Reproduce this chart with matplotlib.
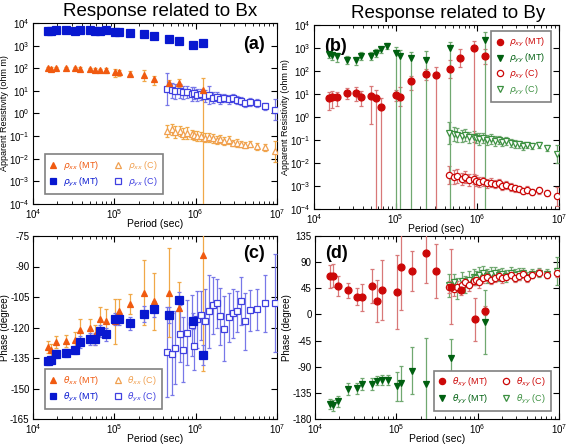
import numpy as np
import matplotlib
matplotlib.use("Agg")
from matplotlib import pyplot as plt
from matplotlib.lines import Line2D
from matplotlib.ticker import NullLocator

plt.rcParams["font.family"] = ["Liberation Sans", "DejaVu Sans"]
plt.rcParams["mathtext.fontset"] = "dejavusans"
plt.rcParams["axes.unicode_minus"] = False

nan = np.nan

# periods (sec)
period_mt = [15300, 16800, 19000, 25700, 32600, 37600, 50000, 57600, 66000, 79000,
             102000, 114000, 155000, 232000, 309000, 465000, 617000, 920000, 1230000]
period_c = [4.45e5, 5.13e5, 5.58e5, 6.43e5, 7.0e5, 7.83e5, 9.04e5, 9.55e5, 1.04e6, 1.16e6,
            1.31e6, 1.46e6, 1.64e6, 1.83e6, 2.0e6, 2.23e6, 2.58e6, 2.88e6, 3.23e6, 3.61e6,
            4.06e6, 4.67e6, 5.69e6, 7.14e6, 9.48e6]

# (a) apparent resistivity, Bx
rho_xx_mt = [98, 97, 100, 105, 102, 96, 90, 88, 80, 80, 68, 65, 57, 50, 32, 22, 23, nan, 11]
rho_xx_mt_lo = [86, 86, 88, 92, 88, 84, 78, 75, 65, 62, 40, 45, 45, 28, 18, 15, 15, nan, 1e-6]
rho_xx_mt_hi = [110, 110, 112, 118, 115, 108, 102, 100, 95, 98, 90, 85, 72, 85, 45, 30, 32, nan, 36]
rho_yx_mt = [4500, 4400, 4800, 4700, 4600, 4800, 5000, 4500, 4600, 4700,
             4100, 4100, 3500, 3300, 2700, 2000, 1600, 1100, 1250]
rho_yx_c = [12, 10.5, 9.5, 10, 8.5, 9, 7.5, 8, 6.5, 7, 6, 6.3, 5, 5.5, 4.5, 5, 4.2, 4.7,
            3.8, 3.5, 2.8, 3.2, 2.8, 2.1, 1.5]
rho_yx_c_f = [5, 2.2, 2.2, 2, 2, 1.8, 2, 1.8, 1.8, 1.7, 1.8, 2.5, 1.8, 1.6, 1.7, 1.5, 1.6,
              1.5, 1.5, 1.5, 1.4, 1.5, 1.5, 1.4, 3]
rho_xx_c = [0.17, 0.2, 0.15, 0.17, 0.13, 0.14, 0.12, 0.11, 0.1, 0.1, 0.085, 0.09, 0.08,
            0.07, 0.075, 0.06, 0.065, 0.05, 0.05, 0.045, 0.04, 0.045, 0.035, 0.032, 0.021]
rho_xx_c_f = [1.8, 1.8, 1.8, 1.7, 1.7, 1.8, 1.6, 1.6, 1.7, 1.6, 1.6, 1.6, 1.6, 1.5, 1.5,
              1.5, 1.5, 1.4, 1.5, 1.4, 1.4, 1.4, 1.4, 1.4, 3]

# (b) apparent resistivity, By
rho_xy_mt = [6.8, 7.5, 7.5, 11, 11, 7.5, 8.5, 6.5, 2.8, nan, 9.5, 7.5, 38, 76, 69, 125, 360, 980, 430]
rho_xy_mt_lo = [2, 2.5, 3, 6, 5, 3, 0.5, 1e-6, 1e-6, nan, 5, 3, 15, 40, 1e-6, 50, 150, 1e-6, 200]
rho_xy_mt_hi = [12, 14, 12, 18, 20, 14, 22, 15, 7, nan, 15, 20, 60, 120, 150, 300, 900, 2000, 900]
rho_yy_mt = [540, 500, 430, 310, 300, 470, 470, 630, 890, 1230, 600, 430, 370, 310, nan, 990, nan, nan, 2200]
rho_yy_mt_lo = [350, 300, 250, 200, 180, 300, 300, 400, 600, 900, 1e-6, 1e-6, 1e-6, 1e-6, nan,
                1e-6, nan, nan, 1e-6]
rho_yy_mt_hi = [650, 650, 600, 450, 420, 650, 650, 900, 1100, 1600, 1100, 800, 700, 750, nan,
                1800, nan, nan, 5000]
rho_yy_c = [0.2, 0.18, 0.17, 0.15, 0.16, 0.13, 0.14, 0.12, 0.11, 0.12, 0.1, 0.11, 0.09, 0.1,
            0.085, 0.09, 0.075, 0.07, 0.065, 0.055, 0.06, 0.055, 0.06, 0.045, 0.025]
rho_yy_c_f = [3, 2, 2, 1.8, 1.8, 1.8, 1.7, 1.7, 1.8, 1.7, 1.6, 1.6, 1.6, 1.5, 1.5, 1.5, 1.5,
              1.5, 1.4, 1.5, 1.4, 1.4, 1.4, 1.4, 2.5]
rho_xy_c = [0.003, 0.0025, 0.0027, 0.002, 0.0024, 0.0018, 0.002, 0.0017, 0.0015, 0.0016,
            0.0013, 0.0014, 0.0012, 0.0013, 0.001, 0.0011, 0.0009, 0.0008, 0.00075, 0.0006,
            0.0007, 0.00055, 0.00065, 0.0005, 0.00035]
rho_xy_c_f = [2.5, 2, 2, 1.8, 1.8, 1.8, 1.7, 1.7, 1.7, 1.6, 1.6, 1.6, 1.5, 1.5, 1.5, 1.5,
              1.5, 1.4, 1.4, 1.4, 1.4, 1.4, 1.4, 1.4, 2.5]

# (c) phase, Bx
th_xx_mt = [-129.4, -131, -127, -126.5, -126, -121, -120, -123.7, -116, -117, -117, -111.8,
            -108.5, -103, -107, -102.8, -110.6, nan, -84.5]
th_xx_mt_err = [3, 3, 3, 3, 4, 5, 4, 5, 6, 6, 11, 6, 5, 16, 14, 22, 13, nan, 57]
th_yx_mt = [-136.4, -136, -133.2, -132.7, -131, -127.3, -125.6, -125.6, -121.7, -123.4,
            -116, -115.7, -118, -113.4, -111, -113.9, -106.5, -116.8, -133.5]
th_yx_mt_err = [2, 2, 2, 2, 2, 3, 3, 3, 3, 3, 3, 3, 3, 4, 4, 4, 4, 4, 5]
th_yx_c = [-132, -133, -130, -123, -131, -122.5, -119, -129, -116, -114, -117, -112, -109,
           -108, -114.5, -120.5, -115, -113, -112, -107, -117, -111.5, -111, -108, -108]
th_yx_c_err = [22, 20, 18, 14, 16, 16, 15, 12, 14, 12, 16, 18, 14, 12, 14, 16, 12, 12, 10,
               12, 14, 10, 10, 14, 24]

# (d) phase, By
th_xy_mt = [65.8, 66.4, 49.2, 41.8, 30.4, 29.2, 49.2, 23.5, 41.8, nan, 39, 81, 75, 106.4, 75,
            48, 41.8, -8, 6.4]
th_xy_mt_err = [20, 20, 17, 13, 15, 24, 29, 36, 52, nan, 64, 73, 34, 53, 46, 65, 8, 37, 8]
th_yy_mt = [-154.3, -156.6, -149.7, -128.6, -127.4, -120, -120, -114, -112.6, -112.6, -124,
            -118.3, -96.6, -120, nan, -75.4, nan, nan, -12.5]
th_yy_mt_err = [8, 10, 9, 10, 10, 10, 10, 8, 9, 9, 25, 30, 40, 80, nan, 33, nan, nan, 55]
th_xy_c = [47, 44, 48, 50, 55, 50, 58, 60, 55, 62, 65, 60, 63, 67, 62, 65, 68, 63, 66, 70,
           62, 68, 72, 68, 72]
th_xy_c_err = [10, 12, 10, 10, 8, 10, 8, 8, 10, 8, 8, 8, 8, 8, 8, 6, 6, 8, 6, 6, 6, 6, 6, 6, 8]
th_yy_c = [50, 55, 45, 58, 52, 60, 65, 62, 68, 72, 66, 70, 72, 68, 70, 66, 72, 68, 70, 72,
           65, 70, 72, 70, 74]
th_yy_c_err = [20, 15, 18, 15, 15, 14, 14, 12, 14, 12, 12, 12, 10, 10, 10, 10, 10, 10, 10,
               8, 8, 8, 8, 8, 24]

ORANGE = "#f05a10"
ORANGE_BAR = "#f0a848"
ORANGE_C = "#f0a050"
BLUE = "#0818d0"
BLUE_C = "#4040e0"
BLUE_BAR = "#7878e8"
RED = "#cc0808"
RED_BAR = "#d87878"
GREEN = "#006010"
GREEN_BAR = "#70a870"
GREEN_C = "#3c9040"


def eb(ax, x, y, lo=None, hi=None, err=None, factor=None, marker="o", color="k",
       mfc=None, bar=None, ms=5, z=3):
    y = np.array(y, dtype=float)
    if factor is not None:
        f = np.array(factor, dtype=float)
        lo, hi = y / f, y * f
    if err is not None:
        e = np.array(err, dtype=float)
        yerr = [e, e]
    else:
        yerr = [y - np.array(lo, dtype=float), np.array(hi, dtype=float) - y]
    ax.errorbar(x, y, yerr=yerr, fmt=marker, color=color, ms=ms,
                mfc=color if mfc is None else mfc, mec=color, mew=0.9,
                ecolor=bar or color, elinewidth=0.9, capsize=1.3, capthick=0.8,
                zorder=z)


fig = plt.figure(figsize=(5.67, 4.44), dpi=100)
W, H = 567, 444


def add_ax(l, t, r, b):
    return fig.add_axes([l / W, 1 - b / H, (r - l) / W, (b - t) / H])


ax_a = add_ax(33, 23, 277, 204)
ax_b = add_ax(314, 25, 559, 209)
ax_c = add_ax(33, 236, 277, 419)
ax_d = add_ax(315, 236, 559, 419)

# (a)
eb(ax_a, period_c, rho_yx_c, factor=rho_yx_c_f, marker="s", color=BLUE_C, mfc="white",
   bar=BLUE_BAR, ms=4.5)
eb(ax_a, period_c, rho_xx_c, factor=rho_xx_c_f, marker="^", color=ORANGE_C, mfc="white",
   bar=ORANGE_BAR, ms=4.5)
eb(ax_a, period_mt, rho_xx_mt, lo=rho_xx_mt_lo, hi=rho_xx_mt_hi, marker="^", color=ORANGE,
   bar=ORANGE_BAR, ms=5)
eb(ax_a, period_mt, rho_yx_mt, factor=[1.12] * len(rho_yx_mt), marker="s", color=BLUE,
   bar=BLUE_BAR, ms=5.5)

# (b)
eb(ax_b, period_c, rho_yy_c, factor=rho_yy_c_f, marker="v", color=GREEN_C, mfc="white",
   bar=GREEN_BAR, ms=4.5)
eb(ax_b, period_c, rho_xy_c, factor=rho_xy_c_f, marker="o", color=RED, mfc="white",
   bar=RED_BAR, ms=4.5)
eb(ax_b, period_mt, rho_xy_mt, lo=rho_xy_mt_lo, hi=rho_xy_mt_hi, marker="o", color=RED,
   bar=RED_BAR, ms=5)
eb(ax_b, period_mt, rho_yy_mt, lo=rho_yy_mt_lo, hi=rho_yy_mt_hi, marker="v", color=GREEN,
   bar=GREEN_BAR, ms=5)

# (c)
eb(ax_c, period_c, th_yx_c, err=th_yx_c_err, marker="s", color=BLUE_C, mfc="white",
   bar=BLUE_BAR, ms=4.5)
eb(ax_c, period_mt, th_xx_mt, err=th_xx_mt_err, marker="^", color=ORANGE, bar=ORANGE_BAR, ms=5)
eb(ax_c, period_mt, th_yx_mt, err=th_yx_mt_err, marker="s", color=BLUE, bar=BLUE_BAR, ms=5.5)

# (d)
eb(ax_d, period_c, th_yy_c, err=th_yy_c_err, marker="v", color=GREEN_C, mfc="white",
   bar=GREEN_BAR, ms=4.5)
eb(ax_d, period_c, th_xy_c, err=th_xy_c_err, marker="o", color=RED, mfc="white",
   bar=RED_BAR, ms=4.5)
eb(ax_d, period_mt, th_xy_mt, err=th_xy_mt_err, marker="o", color=RED, bar=RED_BAR, ms=5)
eb(ax_d, period_mt, th_yy_mt, err=th_yy_mt_err, marker="v", color=GREEN, bar=GREEN_BAR, ms=5)

for ax in (ax_a, ax_b, ax_c, ax_d):
    ax.set_xscale("log")
    ax.set_xlim(1e4, 1e7)
    ax.tick_params(which="both", direction="in", top=True, right=True, labelsize=7,
                   pad=2.5)
    ax.tick_params(axis="x", which="major", pad=2.2)
    ax.tick_params(which="major", length=4)
    ax.tick_params(which="minor", length=2)
    ax.set_xlabel("Period (sec)", fontsize=7.5, labelpad=-1.5)
    for s in ax.spines.values():
        s.set_linewidth(0.8)

for ax in (ax_a, ax_b):
    ax.set_yscale("log")
    ax.set_ylim(1e-4, 1e4)
    ax.set_yticks([10.0 ** k for k in range(-4, 5)])
    ax.yaxis.set_minor_locator(NullLocator())
    ax.set_ylabel("Apparent Resistivity (ohm m)", fontsize=6.5, labelpad=0)

ax_c.set_ylim(-165, -75)
ax_c.set_yticks(np.arange(-165, -74, 15))
ax_d.set_ylim(-180, 135)
ax_d.set_yticks(np.arange(-180, 136, 45))
for ax in (ax_c, ax_d):
    ax.set_ylabel("Phase (degree)", fontsize=7, labelpad=0)

# panel letters
ax_a.text(0.95, 0.93, "(a)", transform=ax_a.transAxes, ha="right", va="top",
          fontsize=13, fontweight="bold")
ax_b.text(0.04, 0.93, "(b)", transform=ax_b.transAxes, ha="left", va="top",
          fontsize=13, fontweight="bold")
ax_c.text(0.95, 0.95, "(c)", transform=ax_c.transAxes, ha="right", va="top",
          fontsize=13, fontweight="bold")
ax_d.text(0.04, 0.95, "(d)", transform=ax_d.transAxes, ha="left", va="top",
          fontsize=13, fontweight="bold")

fig.text(160 / W, 1 - 11 / H, "Response related to Bx", ha="center", va="center",
         fontsize=13.5)
fig.text(448 / W, 1 - 13 / H, "Response related to By", ha="center", va="center",
         fontsize=13.5)


def h(marker, color, filled):
    return Line2D([], [], ls="none", marker=marker, color=color, ms=4.5,
                  mfc=color if filled else "white", mec=color, mew=0.9)


def legend(ax, handles, labels, colors, ncol, loc, anchor, spacing=0.45):
    lg = ax.legend(handles, labels, ncol=ncol, loc=loc, bbox_to_anchor=anchor,
                   fontsize=6.5, frameon=True, fancybox=False, framealpha=1,
                   edgecolor="#808080", handlelength=0.8, handletextpad=0.7,
                   columnspacing=1.6, labelspacing=spacing, borderpad=0.55)
    lg.get_frame().set_linewidth(1.2)
    for t, c in zip(lg.get_texts(), colors):
        t.set_color(c)


legend(ax_a,
       [h("^", ORANGE, True), h("s", BLUE, True), h("^", ORANGE_C, False), h("s", BLUE_C, False)],
       [r"$\rho_{xx}$ (MT)", r"$\rho_{yx}$ (MT)", r"$\rho_{xx}$ (C)", r"$\rho_{yx}$ (C)"],
       [ORANGE, BLUE, ORANGE_C, BLUE_C], 2, "lower left", (0.03, 0.03))
legend(ax_b,
       [h("o", RED, True), h("v", GREEN, True), h("o", RED, False), h("v", GREEN_C, False)],
       [r"$\rho_{xy}$ (MT)", r"$\rho_{yy}$ (MT)", r"$\rho_{xy}$ (C)", r"$\rho_{yy}$ (C)"],
       [RED, GREEN, RED, GREEN_C], 1, "upper right", (0.985, 0.99), spacing=0.3)
legend(ax_c,
       [h("^", ORANGE, True), h("s", BLUE, True), h("^", ORANGE_C, False), h("s", BLUE_C, False)],
       [r"$\theta_{xx}$ (MT)", r"$\theta_{yx}$ (MT)", r"$\theta_{xx}$ (C)", r"$\theta_{yx}$ (C)"],
       [ORANGE, BLUE, ORANGE_C, BLUE_C], 2, "lower left", (0.03, 0.03))
legend(ax_d,
       [h("o", RED, True), h("v", GREEN, True), h("o", RED, False), h("v", GREEN_C, False)],
       [r"$\theta_{xy}$ (MT)", r"$\theta_{yy}$ (MT)", r"$\theta_{xy}$ (C)", r"$\theta_{yy}$ (C)"],
       [RED, GREEN, RED, GREEN_C], 2, "lower right", (0.985, 0.02))

fig.savefig("out.png", dpi=100)
